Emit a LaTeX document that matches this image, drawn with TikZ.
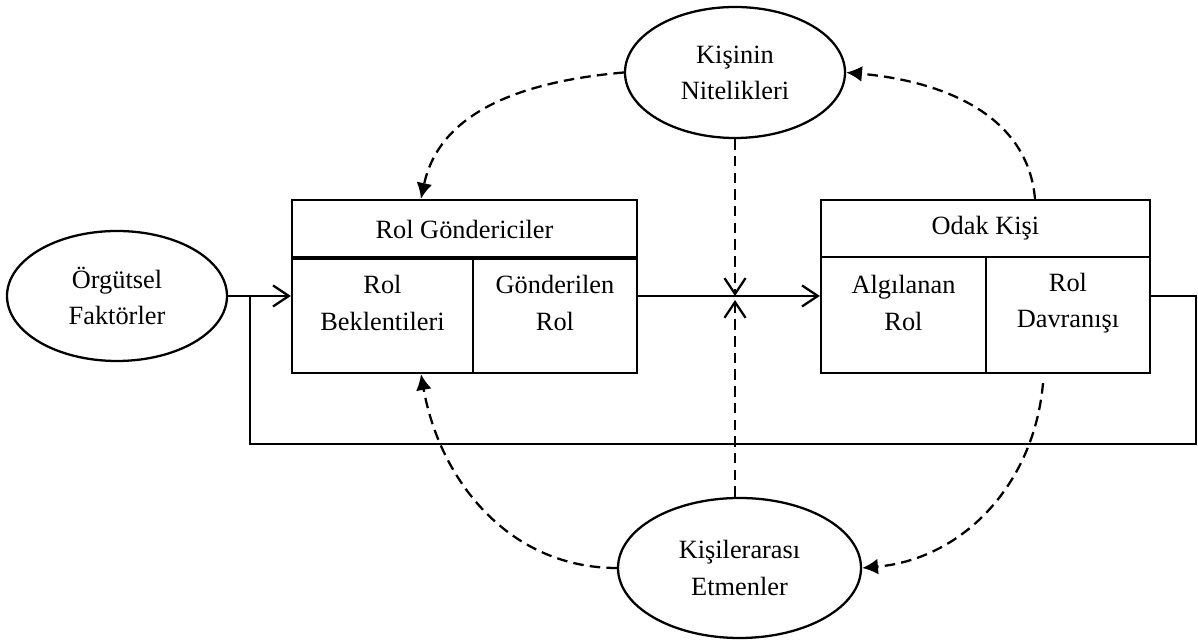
\documentclass[tikz,border=0pt]{standalone}
\usepackage{fontspec}
\setmainfont{Liberation Serif}
\usetikzlibrary{arrows.meta,calc,positioning,shapes.geometric}

\begin{document}
\begin{tikzpicture}[line cap=butt,line join=miter,
  every node/.style={font=\fontsize{15}{20.5}\selectfont},
  oval/.style={draw,ellipse,line width=1.3pt,align=center,inner sep=0pt},
  headbox/.style={draw,line width=1.3pt,minimum height=1.14cm,inner sep=0pt},
  cellbox/.style={draw,line width=1.3pt,minimum height=2.32cm,inner sep=0pt},
  celltext/.style={align=center},
  flow/.style={line width=1.3pt,-{Straight Barb[length=9pt,width=12pt]}},
  dashflow/.style={flow,dash pattern=on 6pt off 3.5pt},
  infl/.style={line width=1.3pt,dash pattern=on 6pt off 3.5pt,
   -{Latex[length=9pt,width=9pt]}}]
 \useasboundingbox (0,0) rectangle (23.96,12.8);
 % factors round the roles
 \node[oval,minimum width=4.4cm,minimum height=2.6cm]
  (orgut) at (2.34,6.88) {Örgütsel\\Faktörler};
 \node[oval,minimum width=4.4cm,minimum height=2.62cm]
  (nitelik) at (14.7,11.35) {Kişinin\\Nitelikleri};
 \node[oval,minimum width=4.86cm,minimum height=2.8cm]
  (etmen) at (14.79,1.44) {Kişilerarası\\Etmenler};
 % role senders
 \node[headbox,minimum width=6.9cm,minimum height=1.17cm]
  (gonder) at (9.29,8.215) {Rol Göndericiler};
 \node[cellbox,minimum width=3.62cm] (bekl) at (7.65,6.5) {};
 \node[cellbox,minimum width=3.28cm] (gond) at (11.1,6.5) {};
 \node[celltext] (bekltxt) at ([yshift=.24cm]bekl.center) {Rol\\Beklentileri};
 \node[celltext] (gondtxt) at ([yshift=.24cm]gond.center) {Gönderilen\\Rol};
 % focal person
 \node[headbox,minimum width=6.58cm] (odak) at (19.71,8.23) {Odak Kişi};
 \node[cellbox,minimum width=3.3cm] (algi) at (18.07,6.5) {};
 \node[cellbox,minimum width=3.28cm] (davr) at (21.36,6.5) {};
 \node[celltext] (algitxt) at ([yshift=.24cm]algi.center) {Algılanan\\Rol};
 \node[celltext] (davrtxt) at ([yshift=.24cm]davr.center) {Rol\\Davranışı};
 % main flow and feedback
 \coordinate (jn) at (5.0,6.88);
 \coordinate (mid) at (14.7,6.88);
 \draw[flow] (orgut.east) -- (orgut.east -| bekl.west);
 \draw[flow] (gond.east |- orgut.east) -- (algi.west |- orgut.east);
 \draw[line width=1.3pt] (davr.east |- orgut.east) -| (23.92,3.92) -| (jn);
 \draw[dashflow] (nitelik.south) -- (mid);
 \draw[dashflow] (etmen.north -| mid) -- ([yshift=-.08cm]mid);
 % influences
 \draw[infl] (nitelik.west) to[out=185,in=78] ([xshift=-.87cm]gonder.north);
 \draw[infl] ([xshift=.99cm]odak.north) to[out=95,in=-5] (nitelik.east);
 \draw[infl] (etmen.west) to[out=180,in=-80] ([xshift=.77cm]bekl.south);
 \draw[infl] ([xshift=-.5cm,yshift=-.18cm]davr.south) to[out=-95,in=5] (etmen.east);
\end{tikzpicture}
\end{document}
